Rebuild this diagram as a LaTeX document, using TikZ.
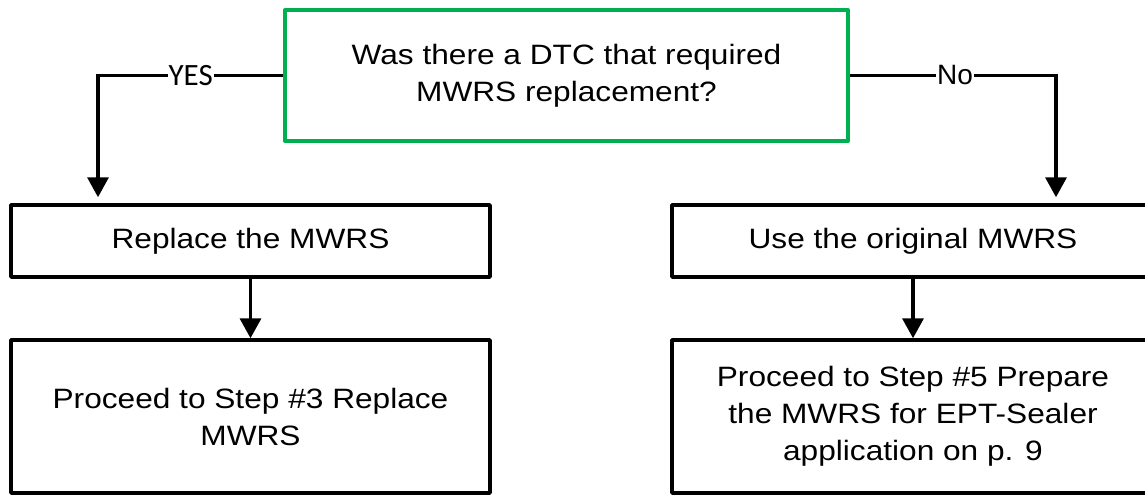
\documentclass[tikz,border=0pt]{standalone}
\usepackage{fontspec}
\setmainfont{Liberation Sans}[FakeStretch=1.13]
\newfontfamily\plainfont{Liberation Sans}
\newfontfamily\calibfont{Carlito}
\usetikzlibrary{arrows.meta}
\definecolor{boxgreen}{RGB}{0,176,80}
\begin{document}
\begin{tikzpicture}[x=1pt,y=-1pt,
  box/.style={draw=black, line width=3.5pt, rectangle, inner sep=0pt, align=center,
    font=\fontsize{28}{37}\selectfont, line join=round},
  link/.style={draw=black, line width=3.5pt, -{Triangle[width=21pt,length=20pt]}},
  lab/.style={fill=white, inner sep=1pt}]
\useasboundingbox (0,0) rectangle (1145,495);
\clip (0,0) rectangle (1145,495);
\fill[white] (0,0) rectangle (1145,495);
\node[box, draw=boxgreen, line width=4pt, minimum width=563pt, minimum height=131pt] (q) at (566.5,75.5) {Was there a DTC that required\\MWRS replacement?};
\node[box, minimum width=479pt, minimum height=72pt] (a) at (250.5,241) {Replace the MWRS};
\node[box, minimum width=482pt, minimum height=72pt] (b) at (913,241) {Use the original MWRS};
\node[box, minimum width=479pt, minimum height=153pt] (c) at (250.5,416.5) {Proceed to Step \#3 Replace\\MWRS};
\node[box, minimum width=482pt, minimum height=153pt] (d) at (913,416.5) {Proceed to Step \#5 Prepare\\the MWRS for EPT-Sealer\\application on p. 9};
\coordinate (yl) at (98,75.5);
\coordinate (nl) at (1056,75.5);
\draw[link, shorten >=6pt] (q.west) -- (yl) -- (yl |- a.north);
\draw[link, shorten >=6pt] (q.east) -- (nl) -- (nl |- b.north);
\draw[link] (a.south) -- (c.north);
\draw[link] (b.south) -- (d.north);
\node[lab, font=\calibfont\fontsize{31}{31}\selectfont] (yes) at (190.7,75.5) {YES};
\node[lab, font=\plainfont\fontsize{28}{28}\selectfont] (no) at (955,75.5) {No};
\end{tikzpicture}
\end{document}
